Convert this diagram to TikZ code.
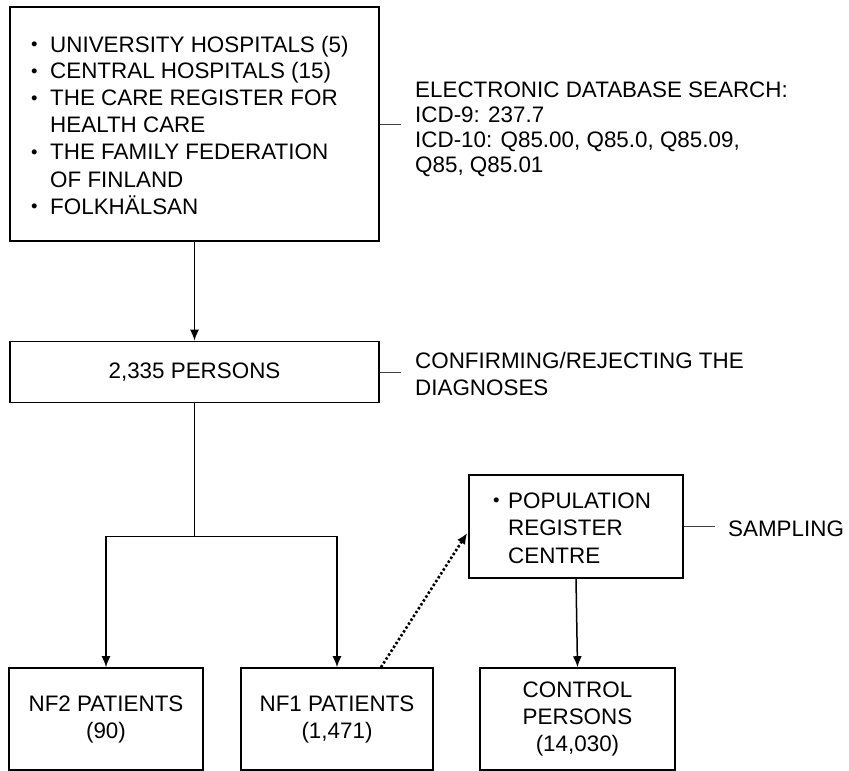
\documentclass[tikz,border=0pt]{standalone}
\usepackage{fontspec}
\setmainfont{Liberation Sans}
\usetikzlibrary{arrows.meta,calc}
\newcommand{\smbul}{\raisebox{1.5pt}{\fontsize{18.5}{18.5}\selectfont •}}
\begin{document}
\begin{tikzpicture}[x=1pt,y=1pt,
  box/.style={draw=black,line width=1.6pt,inner sep=0pt,align=center,
    font=\fontsize{22.4}{27}\selectfont},
  side/.style={draw=black!75,line width=1pt},
  arr/.style={draw=black,line width=1.5pt,-{Latex[length=11pt,width=9pt]}},
  dotarr/.style={draw=black,line width=2.6pt,dash pattern=on 2.4pt off 2.2pt,
    -{Latex[length=11pt,width=9.5pt]}},
  lbl/.style={inner sep=0pt,anchor=base west}]
\useasboundingbox (0,0) rectangle (849,-771);
\fill[white] (0,0) rectangle (849,-771);

% boxes
\node[box,minimum width=369,minimum height=234] (top) at (194.5,-124) {};
\node[box,minimum width=369,minimum height=61] (mid) at (194.5,-372) {2,335 PERSONS};
\node[box,minimum width=214,minimum height=103] (pop) at (576,-526.5) {};
\node[box,minimum width=194,minimum height=102] (nf2) at (106,-719) {NF2 PATIENTS\\(90)};
\node[box,minimum width=192,minimum height=102] (nf1) at (337,-719) {NF1 PATIENTS\\(1,471)};
\node[box,minimum width=195,minimum height=102] (ctrl) at (577.5,-719)
  {\fontsize{22.4}{28}\selectfont CONTROL\\PERSONS\\(14,030)};

% texts
\node[lbl] (toptext) at (31,-52) {\fontsize{22.4}{27}\selectfont
  \begin{tabular}[t]{@{}l@{}}
  \makebox[19pt][l]{\smbul}UNIVERSITY HOSPITALS (5)\\
  \makebox[19pt][l]{\smbul}CENTRAL HOSPITALS (15)\\
  \makebox[19pt][l]{\smbul}THE CARE REGISTER FOR\\
  \hspace*{19pt}HEALTH CARE\\
  \makebox[19pt][l]{\smbul}THE FAMILY FEDERATION\\
  \hspace*{19pt}OF FINLAND\\
  \makebox[19pt][l]{\smbul}FOLKHÄLSAN
  \end{tabular}};
\node[lbl] (poptext) at (493,-508) {\fontsize{22.4}{27.5}\selectfont
  \begin{tabular}[t]{@{}l@{}}
  \makebox[15pt][l]{\smbul}POPULATION\\
  \hspace*{15pt}REGISTER\\
  \hspace*{15pt}CENTRE
  \end{tabular}};
\node[lbl] (edb) at (415,-97) {\fontsize{22.4}{25.3}\selectfont
  \begin{tabular}[t]{@{}l@{}}
  ELECTRONIC DATABASE SEARCH:\\
  ICD-9: 237.7\\
  ICD-10: Q85.00, Q85.0, Q85.09,\\
  Q85, Q85.01
  \end{tabular}};
\node[lbl] (conf) at (415,-368) {\fontsize{22.4}{27}\selectfont
  \begin{tabular}[t]{@{}l@{}}
  CONFIRMING/REJECTING THE\\
  DIAGNOSES
  \end{tabular}};
\node[lbl] (samp) at (728,-536) {\fontsize{22.4}{27}\selectfont SAMPLING};

% side connectors
\coordinate (e1) at (401,-124);
\coordinate (e2) at (401,-372);
\coordinate (e3) at (715,-526.5);
\draw[side] (top.east) -- (e1);
\draw[side] (mid.east) -- (e2);
\draw[side] (pop.east) -- (e3);

% main flow
\draw[arr] (top.south) -- (mid.north);
\coordinate (j) at ($(mid.south)+(0,-133)$);
\draw[draw=black,line width=1.5pt] (mid.south) -- (j);
\draw[arr] (j) -| (nf2.north);
\draw[arr] (j) -| (nf1.north);
\draw[arr] (pop.south) -- (ctrl.north);

% dotted
\coordinate (d0) at ($(nf1.north)+(44,0)$);
\coordinate (d1) at ($(pop.west)+(-1,-6.5)$);
\draw[dotarr] (d0) -- (d1);
\end{tikzpicture}
\end{document}
